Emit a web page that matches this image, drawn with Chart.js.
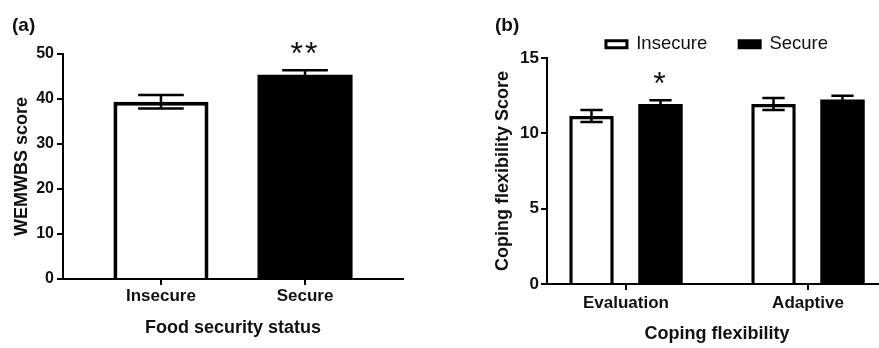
<!DOCTYPE html>
<html>
<head>
<meta charset="utf-8">
<script src="https://cdn.jsdelivr.net/npm/chart.js@4/dist/chart.umd.min.js"></script>
<style>
  html, body { margin: 0; padding: 0; background: #fff; }
  #wrap { position: relative; width: 879px; height: 348px; overflow: hidden; background: #fff; }
  #cA { position: absolute; left: 0; top: 0; }
  #cB { position: absolute; left: 440px; top: 0; }
  .panel { position: absolute; top: 15px; font: bold 19px "Liberation Sans", Arial, sans-serif; line-height: 19px; color: #111; }
</style>
</head>
<body>
<div id="wrap">
  <canvas id="cA" width="440" height="348"></canvas>
  <canvas id="cB" width="447" height="348"></canvas>
  <div class="panel" style="left:12px">(a)</div>
  <div class="panel" style="left:495px">(b)</div>
</div>
<script>
// ---- Panel (a) data ----
const categoriesA = ['Insecure', 'Secure'];
const meansA = [39.4, 45.4];
const errA = [1.5, 1.0];
const sigA = ['', '**'];
const yTitleA = 'WEMWBS score';
const xTitleA = 'Food security status';

// ---- Panel (b) data ----
const categoriesB = ['Evaluation', 'Adaptive'];
const seriesNamesB = ['Insecure', 'Secure'];
const insecureB = [11.15, 11.95];
const insecureErrB = [0.4, 0.4];
const secureB = [11.95, 12.25];
const secureErrB = [0.25, 0.25];
const sigInsecureB = ['', ''];
const sigSecureB = ['*', ''];
const yTitleB = 'Coping flexibility Score';
const xTitleB = 'Coping flexibility';

const FONT = '"Liberation Sans", Arial, sans-serif';
const INK = '#111';

const errorBarPlugin = {
  id: 'errorBars',
  afterDatasetsDraw(chart, args, opts) {
    const ctx = chart.ctx;
    const ys = chart.scales.y;
    chart.data.datasets.forEach((ds, di) => {
      const meta = chart.getDatasetMeta(di);
      meta.data.forEach((bar, i) => {
        const v = ds.data[i].y;
        const e = ds.errors[i];
        const top = ys.getPixelForValue(v + e);
        const bot = ys.getPixelForValue(v - e);
        const half = bar.width * opts.capRatio / 2;
        ctx.save();
        ctx.strokeStyle = '#000';
        ctx.lineWidth = opts.lineWidth;
        ctx.beginPath();
        ctx.moveTo(bar.x, top); ctx.lineTo(bar.x, bot);
        ctx.moveTo(bar.x - half, top); ctx.lineTo(bar.x + half, top);
        ctx.moveTo(bar.x - half, bot); ctx.lineTo(bar.x + half, bot);
        ctx.stroke();
        if (ds.sig && ds.sig[i]) {
          ctx.fillStyle = INK;
          ctx.font = '32px ' + FONT;
          ctx.textAlign = 'center';
          ctx.textBaseline = 'alphabetic';
          try { ctx.letterSpacing = '2px'; } catch (err) {}
          ctx.fillText(ds.sig[i], bar.x, top - opts.sigGap);
        }
        ctx.restore();
      });
    });
  }
};

function axisCommon(extra) {
  return Object.assign({
    grid: { drawOnChartArea: false, color: '#000', lineWidth: 2, tickLength: 6, offset: false },
    border: { color: '#000', width: 2 }
  }, extra);
}

// ---- Chart A ----
new Chart(document.getElementById('cA'), {
  type: 'bar',
  data: {
    datasets: [{
      label: 'WEMWBS',
      data: meansA.map((y, i) => ({ x: i, y })),
      errors: errA,
      sig: sigA,
      backgroundColor: ['#fff', '#000'],
      borderColor: '#000',
      borderWidth: [4, 0],
      categoryPercentage: 1,
      barPercentage: 0.66
    }]
  },
  options: {
    responsive: false,
    animation: false,
    devicePixelRatio: 1,
    layout: { padding: { top: 54, right: 37, left: 0, bottom: 0 } },
    plugins: {
      legend: { display: false },
      tooltip: { enabled: false },
      errorBars: { capRatio: 0.48, lineWidth: 2.5, sigGap: 6 }
    },
    scales: {
      x: axisCommon({
        type: 'linear', min: -0.68, max: 1.68, offset: false,
        ticks: { stepSize: 1, includeBounds: false, autoSkip: false, maxRotation: 0,
          callback: v => categoriesA[v] ?? '', color: INK, padding: 1,
          font: { family: FONT, size: 17, weight: 'bold' } },
        title: { display: true, text: xTitleA, color: INK, padding: { top: 0, bottom: 9 },
          font: { family: FONT, size: 18, weight: 'bold' } },
        afterFit: s => { s.height = 69; }
      }),
      y: axisCommon({
        min: 0, max: 50,
        ticks: { stepSize: 10, color: INK, padding: 3,
          font: { family: FONT, size: 16, weight: 'bold' } },
        title: { display: true, text: yTitleA, color: INK, padding: { top: 11, bottom: 0 },
          font: { family: FONT, size: 18, weight: 'bold' } },
        afterFit: s => { s.width = 63; }
      })
    }
  },
  plugins: [errorBarPlugin]
});

// ---- Chart B ----
new Chart(document.getElementById('cB'), {
  type: 'bar',
  data: {
    datasets: [{
      label: seriesNamesB[0],
      data: insecureB.map((y, i) => ({ x: i, y })),
      errors: insecureErrB,
      sig: sigInsecureB,
      backgroundColor: '#fff',
      borderColor: '#000',
      borderWidth: 3.5,
      categoryPercentage: 0.758,
      barPercentage: 0.645
    }, {
      label: seriesNamesB[1],
      data: secureB.map((y, i) => ({ x: i, y })),
      errors: secureErrB,
      sig: sigSecureB,
      backgroundColor: '#000',
      borderColor: '#000',
      borderWidth: 0,
      categoryPercentage: 0.758,
      barPercentage: 0.645
    }]
  },
  options: {
    responsive: false,
    animation: false,
    devicePixelRatio: 1,
    layout: { padding: { top: 3, right: 0, left: 0, bottom: 0 } },
    plugins: {
      legend: {
        display: true, position: 'top', align: 'center', maxHeight: 55, fullSize: false,
        labels: { boxWidth: 21, boxHeight: 7, padding: 32, color: INK,
          font: { family: FONT, size: 18.5, weight: 'normal' },
          generateLabels: chart => Chart.defaults.plugins.legend.labels.generateLabels(chart)
            .map(item => Object.assign(item, { lineWidth: 3, strokeStyle: '#000' })) }
      },
      tooltip: { enabled: false },
      errorBars: { capRatio: 0.5, lineWidth: 2.5, sigGap: 6 }
    },
    scales: {
      x: axisCommon({
        type: 'linear', min: -0.434, max: 1.434, offset: false,
        ticks: { stepSize: 1, includeBounds: false, autoSkip: false, maxRotation: 0,
          callback: v => categoriesB[v] ?? '', color: INK, padding: 3,
          font: { family: FONT, size: 17, weight: 'bold' } },
        title: { display: true, text: xTitleB, color: INK, padding: { top: 0, bottom: 3.5 },
          font: { family: FONT, size: 18, weight: 'bold' } },
        afterFit: s => { s.height = 64; }
      }),
      y: axisCommon({
        min: 0, max: 15,
        ticks: { stepSize: 5, color: INK, padding: 2,
          font: { family: FONT, size: 17, weight: 'bold' } },
        title: { display: true, text: yTitleB, color: INK, padding: { top: 52, bottom: 0 },
          font: { family: FONT, size: 18, weight: 'bold' } },
        afterFit: s => { s.width = 107; }
      })
    }
  },
  plugins: [errorBarPlugin]
});
</script>
</body>
</html>
